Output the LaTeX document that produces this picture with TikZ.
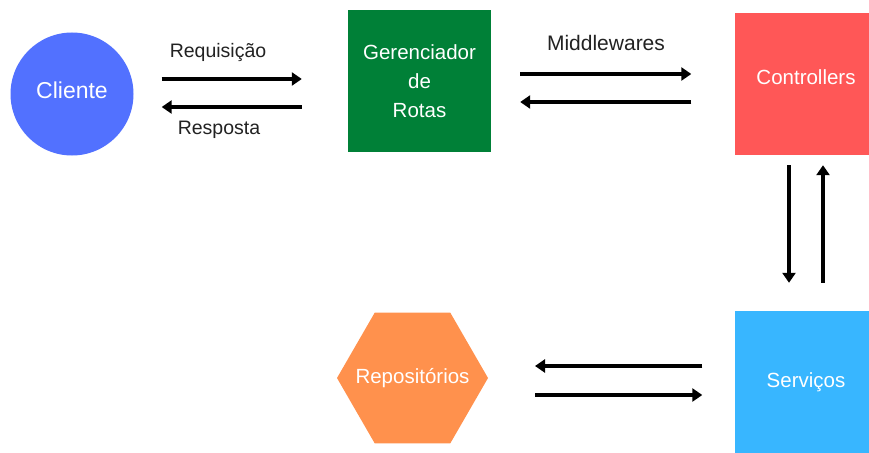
\documentclass[tikz,border=0pt]{standalone}
\usepackage{fontspec}
\setmainfont{Liberation Sans}
\usetikzlibrary{arrows.meta,shapes.geometric}
\definecolor{cblue}{HTML}{5271FF}
\definecolor{cgreen}{HTML}{008037}
\definecolor{cred}{HTML}{FF5757}
\definecolor{csky}{HTML}{38B6FF}
\definecolor{corange}{HTML}{FF914D}
\definecolor{ctext}{HTML}{222222}
\tikzset{
  boxnode/.style={rectangle, minimum width=143pt, minimum height=142pt, inner sep=0pt, text=white, font=\fontsize{20.5}{29}\selectfont, align=center},
  lbl/.style={text=ctext, font=\fontsize{19.5}{23}\selectfont, inner sep=0pt},
  arr/.style={draw=black, line width=3.3pt, -{Triangle[length=10pt,width=13pt]}}
}
\begin{document}
\begin{tikzpicture}[x=1pt,y=-1pt]
\clip (0,0) rectangle (869,452);
\fill[white] (0,0) rectangle (869,452);
% nodes
\node[circle, fill=cblue, minimum size=123pt, inner sep=0pt, text=white, font=\fontsize{23}{27}\selectfont, text depth=8pt] (cli) at (72,94) {Cliente};
\node[boxnode, fill=cgreen] (ger) at (419.5,81) {Gerenciador\\de\\Rotas};
\node[boxnode, fill=cred, text depth=14pt] (ctl) at (806,84) {Controllers};
\node[boxnode, fill=csky] (ser) at (806,382) {Serviços};
\node[regular polygon, regular polygon sides=6, fill=corange, minimum size=151pt, inner sep=0pt, outer sep=0pt,
  label={[text=white, font=\fontsize{20.5}{24}\selectfont, inner sep=0pt]center:Repositórios}] (rep) at (412.5,378) {};
% labels
\node[lbl] (lreq) at (218,53) {Requisição};
\node[lbl] (lres) at (219,130) {Resposta};
\node[lbl, font=\fontsize{21}{25}\selectfont] (lmid) at (606,43) {Middlewares};
% connectors
\draw[arr] ([shift={(28,-15)}]cli.east) -- ([shift={(-46,-2)}]ger.west);
\draw[arr] ([shift={(-46,26)}]ger.west) -- ([shift={(28,13)}]cli.east);
\draw[arr] ([shift={(29,-7)}]ger.east) -- ([shift={(-43,-10)}]ctl.west);
\draw[arr] ([shift={(-43,18)}]ctl.west) -- ([shift={(29,21)}]ger.east);
\draw[arr] ([shift={(-17,10)}]ctl.south) -- ([shift={(-17,-28)}]ser.north);
\draw[arr] ([shift={(17,-28)}]ser.north) -- ([shift={(17,10)}]ctl.south);
\draw[arr] ([shift={(-32,-16)}]ser.west) -- ([shift={(47,-12)}]rep.east);
\draw[arr] ([shift={(47,17)}]rep.east) -- ([shift={(-32,13)}]ser.west);
\end{tikzpicture}
\end{document}
